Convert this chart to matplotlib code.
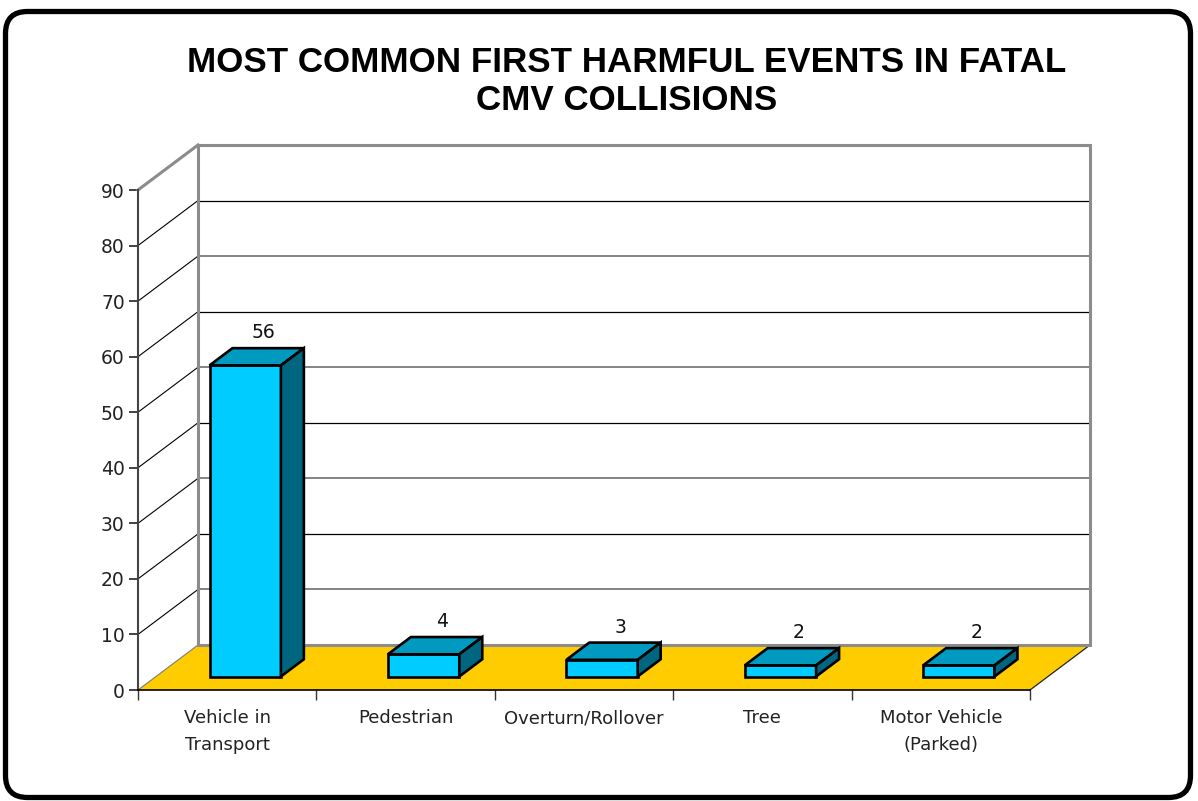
import matplotlib
matplotlib.use("Agg")
import matplotlib.pyplot as plt
from matplotlib.patches import Polygon, Rectangle, FancyBboxPatch

# ---- data ----
categories = ["Vehicle in\nTransport", "Pedestrian", "Overturn/Rollover", "Tree", "Motor Vehicle\n(Parked)"]
values = [56, 4, 3, 2, 2]
y_ticks = [0, 10, 20, 30, 40, 50, 60, 70, 80, 90]
title_lines = ["MOST COMMON FIRST HARMFUL EVENTS IN FATAL", "CMV COLLISIONS"]

# ---- style ----
W, H = 1198, 801
FRONT = "#00CCFF"
TOP = "#0099C0"
SIDE = "#006680"
FLOOR = "#FFCC00"
WALL_EDGE = "#8C8C8C"

fig = plt.figure(figsize=(W / 100, H / 100), dpi=100)

# background frame (decoration)
bg = fig.add_axes([0, 0, 1, 1], zorder=0)
bg.set_xlim(0, W)
bg.set_ylim(H, 0)
bg.axis("off")
bg.add_patch(FancyBboxPatch((5.5, 11.5), W - 13, H - 15,
                            boxstyle="round,pad=0,rounding_size=22",
                            lw=3.8, ec="black", fc="white"))

# main plot axes (front plane)
ax = fig.add_axes([138 / W, (H - 690) / H, 892 / W, 500 / H], zorder=1)
ax.patch.set_visible(False)
n = len(categories)
ax.set_xlim(0, n)
ax.set_ylim(0, 90)

# depth offset expressed in data units
DX = 60 / 892 * n
DY = 45 / 500 * 90


def P(x, y, d):
    return (x + d * DX, y + d * DY)


# back wall
ax.add_patch(Rectangle(P(0, 0, 1), n, 90, fc="white", ec="none", zorder=0.5, clip_on=False))
# floor
ax.add_patch(Polygon([P(0, 0, 0), P(n, 0, 0), P(n, 0, 1), P(0, 0, 1)],
                     closed=True, fc=FLOOR, ec="none", zorder=1, clip_on=False))
# floor right edge
ax.plot(*zip(P(n, 0, 0), P(n, 0, 1)), color="#222222", lw=0.9, zorder=1.5, clip_on=False)

# grid lines on back wall and side wall
for v in y_ticks[1:-1]:
    c, w = ("#7A7A7A", 1.3) if (v // 10) % 2 == 1 else ("black", 0.9)
    ax.plot([P(0, v, 1)[0], P(n, v, 1)[0]], [P(0, v, 1)[1]] * 2, color=c, lw=w, zorder=2, clip_on=False)
    ax.plot(*zip(P(0, v, 0), P(0, v, 1)), color="black", lw=0.8, zorder=2, clip_on=False)
ax.plot(*zip(P(0, 0, 0), P(0, 0, 1)), color="#7A7A7A", lw=0.8, zorder=2, clip_on=False)

# wall frame
wall = [P(0, 0, 1), P(0, 90, 1), P(n, 90, 1), P(n, 0, 1)]
ax.add_patch(Polygon(wall, closed=True, fill=False, ec=WALL_EDGE, lw=2.2, zorder=3, clip_on=False))
ax.plot(*zip(P(0, 90, 0), P(0, 90, 1)), color=WALL_EDGE, lw=2.2, zorder=3, clip_on=False)

# bars
d0, d1 = 0.30, 0.683
bw = 0.40
for i, v in enumerate(values):
    x0 = i + 0.5 - bw / 2
    x1 = i + 0.5 + bw / 2
    faces = [
        ([P(x0, 0, d0), P(x1, 0, d0), P(x1, v, d0), P(x0, v, d0)], FRONT),
        ([P(x0, v, d0), P(x1, v, d0), P(x1, v, d1), P(x0, v, d1)], TOP),
        ([P(x1, 0, d0), P(x1, 0, d1), P(x1, v, d1), P(x1, v, d0)], SIDE),
    ]
    for pts, col in faces:
        ax.add_patch(Polygon(pts, closed=True, fc=col, ec="black", lw=1.9,
                             joinstyle="miter", zorder=5, clip_on=False))
    ax.annotate(str(v), xy=P(i + 0.5, v, 0.6), xytext=(0, 7), textcoords="offset points",
                ha="center", va="bottom", fontsize=13.5, color="#111111",
                family="DejaVu Sans", zorder=6, annotation_clip=False)

# axes / ticks
for s in ("top", "right"):
    ax.spines[s].set_visible(False)
ax.spines["left"].set_color("#444444")
ax.spines["left"].set_linewidth(1.5)
ax.spines["bottom"].set_color("black")
ax.spines["bottom"].set_linewidth(1.2)
ax.spines["left"].set_zorder(4)
ax.spines["bottom"].set_zorder(4)

ax.set_yticks(y_ticks)
ax.set_yticklabels([str(t) for t in y_ticks])
ax.tick_params(axis="y", direction="out", length=6.5, width=1.2, pad=3, labelsize=13.5,
               colors="#222222")
ax.set_xticks(range(n + 1))
ax.set_xticklabels([""] * (n + 1))
ax.set_xticks([i + 0.5 for i in range(n)], minor=True)
ax.set_xticklabels(categories, minor=True, fontsize=13, color="#222222", linespacing=1.62,
                   va="top")
ax.tick_params(axis="x", which="major", direction="out", length=7, width=1.0, color="#333333")
ax.tick_params(axis="x", which="minor", length=0, pad=14)

# title
for k, line in enumerate(title_lines):
    fig.text(627 / W, 1 - (62 + 39 * k) / H, line, ha="center", va="center", fontsize=25.2,
             fontweight="bold", family="Liberation Sans")

fig.savefig("out.png", dpi=100)
